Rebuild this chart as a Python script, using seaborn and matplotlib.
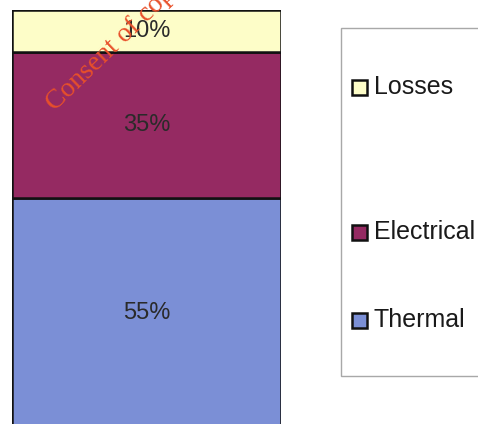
import matplotlib
matplotlib.use("Agg")
import matplotlib.pyplot as plt
import seaborn as sns
import pandas as pd
from matplotlib.patches import Rectangle

sns.set_theme(style="white")
plt.rcParams["font.family"] = ["Liberation Sans", "DejaVu Sans"]

# Energy split of the input (percent), drawn bottom to top
categories = ["Thermal", "Electrical", "Losses"]
shares = [55, 35, 10]
labels = ["55%", "35%", "10%"]
colors = ["#7b8fd6", "#952a62", "#fdfdc8"]

df = pd.DataFrame({"group": ["total"] * 3, "category": categories, "share": shares})

fig = plt.figure(figsize=(4.78, 4.24), dpi=100)
W, H = 478, 424
ax = fig.add_axes([12 / W, (H - 428) / H, (281 - 12) / W, 418 / H])

bottom = 0
for cat, val, lab, col in zip(categories, shares, labels, colors):
    sub = df[df["category"] == cat]
    sns.barplot(data=sub, x="group", y="share", color=col, width=1.0,
                bottom=bottom, edgecolor="#111111", linewidth=1.8,
                saturation=1, ax=ax)
    ax.text(0, bottom + val / 2, lab, ha="center", va="center",
            fontsize=17, color="#2a2a2a")
    bottom += val

ax.set_xlim(-0.5, 0.5)
ax.set_ylim(0, 100)
ax.axis("off")

# Legend frame with entries spaced like the stack
fig.patches.append(Rectangle((341 / W, (H - 376) / H), 0.5, 348 / H,
                             transform=fig.transFigure, facecolor="white",
                             edgecolor="#a8a8a8", linewidth=1.0))
entry_y = {"Losses": 87, "Electrical": 232, "Thermal": 320}
for cat, col in zip(categories, colors):
    y = entry_y[cat]
    fig.patches.append(Rectangle((352 / W, (H - y - 7.5) / H), 15 / W, 15 / H,
                                 transform=fig.transFigure, facecolor=col,
                                 edgecolor="#111111", linewidth=1.8))
    fig.text(374 / W, (H - y) / H, cat, ha="left", va="center",
             fontsize=18, color="#1a1a1a")

# Rotated watermark text
fig.text(55 / W, (H - 112) / H, "Consent of copyright",
         rotation=44, rotation_mode="anchor", ha="left", va="baseline",
         fontsize=20, color="#e8502a", family=["Liberation Serif"])

fig.savefig("out.png", dpi=100)
